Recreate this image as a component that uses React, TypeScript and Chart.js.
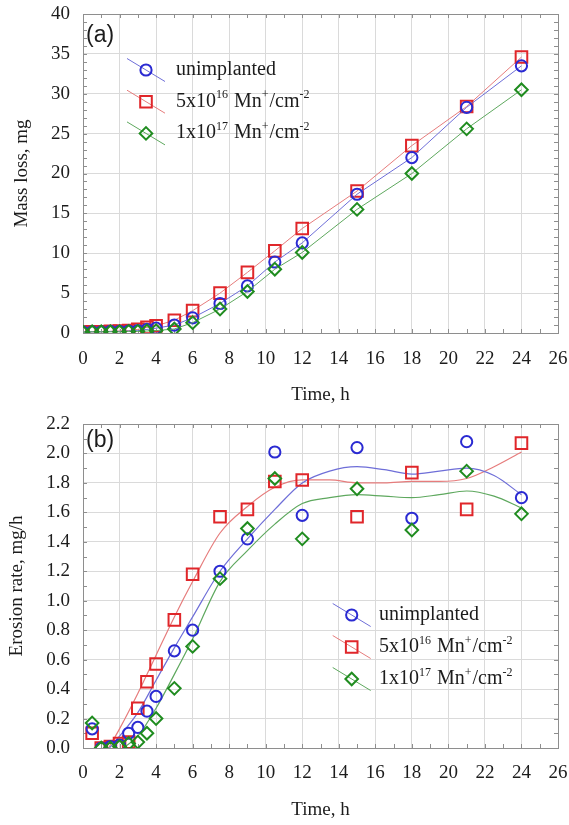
import React, { useEffect, useRef } from 'react';
import { Chart, registerables } from 'chart.js';

Chart.register(...registerables);

// ---------- data: panel (a) mass loss ----------
const timeA = [0, 0.5, 1, 1.5, 2, 2.5, 3, 3.5, 4, 5, 6, 7.5, 9, 10.5, 12, 15, 18, 21, 24];
const massUnimplanted = [0.1, 0.15, 0.15, 0.2, 0.2, 0.25, 0.3, 0.45, 0.6, 1.0, 1.9, 3.7, 5.9, 8.9, 11.3, 17.4, 22.0, 28.3, 33.5];
const mass5e16 = [0.1, 0.15, 0.15, 0.2, 0.25, 0.3, 0.45, 0.7, 0.9, 1.6, 2.8, 5.0, 7.6, 10.3, 13.1, 17.8, 23.5, 28.4, 34.6];
const mass1e17 = [0.1, 0.15, 0.15, 0.15, 0.15, 0.2, 0.2, 0.25, 0.3, 0.5, 1.3, 3.0, 5.2, 8.0, 10.1, 15.5, 20.0, 25.6, 30.5];

// ---------- data: panel (b) erosion rate ----------
const timeB = [0.5, 1, 1.5, 2, 2.5, 3, 3.5, 4, 5, 6, 7.5, 9, 10.5, 12, 15, 18, 21, 24];
const rateUnimplanted = [0.13, 0.0, 0.01, 0.02, 0.1, 0.14, 0.25, 0.35, 0.66, 0.8, 1.2, 1.42, 2.01, 1.58, 2.04, 1.56, 2.08, 1.7];
const rate5e16 = [0.1, 0.0, 0.01, 0.03, 0.04, 0.27, 0.45, 0.57, 0.87, 1.18, 1.57, 1.62, 1.81, 1.82, 1.57, 1.87, 1.62, 2.07];
const rate1e17 = [0.17, 0.0, 0.0, 0.01, 0.03, 0.04, 0.1, 0.2, 0.405, 0.69, 1.15, 1.49, 1.83, 1.42, 1.76, 1.48, 1.88, 1.59];

// fitted (smoothed) curves in panel (b)
const fitTimeUnimplanted = [1.45, 2, 3, 4, 5, 6, 7.5, 9, 10.5, 12, 13.5, 15, 16.5, 18, 19.5, 21, 22.5, 24];
const fitUnimplanted = [0, 0.08, 0.24, 0.46, 0.68, 0.89, 1.2, 1.42, 1.62, 1.8, 1.88, 1.91, 1.89, 1.86, 1.88, 1.9, 1.85, 1.72];
const fitTime5e16 = [1.4, 2, 3, 4, 5, 6, 7.5, 9, 10.5, 12, 13.5, 15, 16.5, 18, 19.5, 21, 22.5, 24];
const fit5e16 = [0, 0.13, 0.37, 0.63, 0.89, 1.13, 1.46, 1.64, 1.77, 1.82, 1.82, 1.8, 1.8, 1.81, 1.81, 1.83, 1.91, 2.01];
const fitTime1e17 = [2.2, 3, 4, 5, 6, 7.5, 9, 10.5, 12, 13.5, 15, 16.5, 18, 19.5, 21, 22.5, 24];
const fit1e17 = [0, 0.08, 0.27, 0.5, 0.74, 1.13, 1.34, 1.52, 1.66, 1.7, 1.72, 1.71, 1.7, 1.72, 1.745, 1.71, 1.63];

// ---------- labels ----------
const seriesNames = ['unimplanted', '5x10^16 Mn^+/cm^-2', '1x10^17 Mn^+/cm^-2'];
const xTitle = 'Time, h';
const yTitleA = 'Mass loss, mg';
const yTitleB = 'Erosion rate, mg/h';
const panelA = '(a)';
const panelB = '(b)';

const SERIF = '"Liberation Serif", "Times New Roman", serif';
const SANS = '"Liberation Sans", Arial, sans-serif';
const TEXT = '#1c1c1c';

const STYLES = [
  { mark: '#2a2ad2', line: '#6e6ed8', point: 'circle', r: 5.6 },
  { mark: '#e0262a', line: '#e67c7c', point: 'rect', r: 8.2 },
  { mark: '#1f8c1f', line: '#5ea85e', point: 'rectRot', r: 6.3 },
];

function pts(xs: number[], ys: number[]) {
  return xs.map((x, i) => ({ x, y: ys[i] }));
}

function drawMarker(ctx: CanvasRenderingContext2D, style: string, x: number, y: number, color: string) {
  ctx.save();
  ctx.strokeStyle = color;
  ctx.lineWidth = 2;
  ctx.beginPath();
  if (style === 'circle') ctx.arc(x, y, 5.6, 0, Math.PI * 2);
  else if (style === 'rect') ctx.rect(x - 5.8, y - 5.8, 11.6, 11.6);
  else {
    ctx.moveTo(x - 6.3, y);
    ctx.lineTo(x, y - 6.3);
    ctx.lineTo(x + 6.3, y);
    ctx.lineTo(x, y + 6.3);
    ctx.closePath();
  }
  ctx.stroke();
  ctx.restore();
}

function drawRichText(ctx: CanvasRenderingContext2D, text: string, x: number, baseline: number) {
  // '^' marks a superscript run that ends at the next '/' or space or end
  const parts: { t: string; sup: boolean }[] = [];
  let i = 0;
  let cur = '';
  while (i < text.length) {
    const c = text[i];
    if (c === '^') {
      if (cur) parts.push({ t: cur, sup: false });
      cur = '';
      i++;
      let s = '';
      while (i < text.length && text[i] !== ' ' && text[i] !== '/') {
        s += text[i];
        i++;
      }
      parts.push({ t: s, sup: true });
    } else {
      cur += c;
      i++;
    }
  }
  if (cur) parts.push({ t: cur, sup: false });
  let px = x;
  ctx.fillStyle = TEXT;
  ctx.textAlign = 'left';
  ctx.textBaseline = 'alphabetic';
  for (const p of parts) {
    if (p.sup) {
      ctx.font = `12px ${SERIF}`;
      ctx.fillText(p.t, px, baseline - 8.5);
      px += ctx.measureText(p.t).width + 1;
    } else {
      ctx.font = `20px ${SERIF}`;
      ctx.fillText(p.t, px, baseline);
      px += ctx.measureText(p.t).width;
    }
  }
}

function decorPlugin(o: {
  yMinor: number;
  label: string;
  labelX: number;
  labelBase: number;
  legX: number;
  legY: number;
  legGap: number;
  textX: number;
}) {
  return {
    id: 'decor',
    beforeDatasetsDraw(chart: any) {
      const { ctx, chartArea: a } = chart;
      const xs = chart.scales.x;
      const ys = chart.scales.y;
      ctx.save();
      ctx.strokeStyle = '#8e8e8e';
      ctx.lineWidth = 1;
      ctx.beginPath();
      for (let v = xs.min; v <= xs.max + 1e-9; v += 1) {
        const px = Math.round(xs.getPixelForValue(v)) + 0.5;
        ctx.moveTo(px, a.bottom);
        ctx.lineTo(px, a.bottom - 4);
        ctx.moveTo(px, a.top);
        ctx.lineTo(px, a.top + 4);
      }
      const n = Math.round((ys.max - ys.min) / o.yMinor);
      for (let k = 0; k <= n; k++) {
        const v = ys.min + k * o.yMinor;
        const py = Math.round(ys.getPixelForValue(v)) + 0.5;
        ctx.moveTo(a.left, py);
        ctx.lineTo(a.left + 4, py);
        ctx.moveTo(a.right, py);
        ctx.lineTo(a.right - 4, py);
      }
      ctx.stroke();
      ctx.strokeRect(Math.round(a.left) + 0.5, Math.round(a.top) + 0.5, Math.round(a.right - a.left), Math.round(a.bottom - a.top));
      ctx.restore();
    },
    afterDraw(chart: any) {
      const ctx: CanvasRenderingContext2D = chart.ctx;
      ctx.save();
      ctx.font = `23px ${SANS}`;
      ctx.fillStyle = TEXT;
      ctx.textAlign = 'left';
      ctx.textBaseline = 'alphabetic';
      ctx.fillText(o.label, o.labelX, o.labelBase);
      STYLES.forEach((s, i) => {
        const y = o.legY + i * o.legGap;
        ctx.strokeStyle = s.line;
        ctx.lineWidth = 1;
        ctx.beginPath();
        ctx.moveTo(o.legX - 19, y - 11.5);
        ctx.lineTo(o.legX + 19, y + 11.5);
        ctx.stroke();
        drawMarker(ctx, s.point, o.legX, y, s.mark);
        drawRichText(ctx, seriesNames[i], o.textX, y + 5);
      });
      ctx.restore();
    },
  };
}

function scaleX(padding: number) {
  return {
    type: 'linear' as const,
    min: 0,
    max: 26,
    ticks: {
      stepSize: 2,
      autoSkip: false,
      maxRotation: 0,
      padding,
      color: TEXT,
      font: { family: SERIF, size: 19 },
    },
    grid: { color: '#dadada', drawTicks: false, lineWidth: 1 },
    border: { display: false },
    title: {
      display: true,
      text: xTitle,
      color: TEXT,
      font: { family: SERIF, size: 19 },
      padding: { top: 0, bottom: 4 },
    },
    afterFit(scale: any) {
      scale.height = 77;
      scale.paddingLeft = 0;
      scale.paddingRight = 0;
    },
  };
}

function scaleY(max: number, step: number, decimals: number, title: string, titlePad: number) {
  return {
    type: 'linear' as const,
    min: 0,
    max,
    ticks: {
      stepSize: step,
      autoSkip: false,
      padding: 13,
      color: TEXT,
      font: { family: SERIF, size: 19 },
      callback: (v: any) => Number(v).toFixed(decimals),
    },
    grid: { color: '#dadada', drawTicks: false, lineWidth: 1 },
    border: { display: false },
    title: {
      display: true,
      text: title,
      color: TEXT,
      font: { family: SERIF, size: 19 },
      padding: { top: titlePad, bottom: 0 },
    },
    afterFit(scale: any) {
      scale.width = 83;
      scale.paddingTop = 0;
      scale.paddingBottom = 0;
    },
  };
}

function PanelA() {
  const ref = useRef<HTMLCanvasElement | null>(null);
  useEffect(() => {
    if (!ref.current) return;
    const series = [massUnimplanted, mass5e16, mass1e17];
    const order = [2, 0, 1];
    const chart = new Chart(ref.current, {
      type: 'scatter',
      data: {
        datasets: order.map((i) => ({
          label: seriesNames[i],
          data: pts(timeA, series[i]),
          showLine: true,
          tension: 0,
          borderColor: STYLES[i].line,
          borderWidth: 1,
          pointStyle: STYLES[i].point as any,
          pointRadius: STYLES[i].r,
          pointBorderColor: STYLES[i].mark,
          pointBackgroundColor: 'rgba(0,0,0,0)',
          pointBorderWidth: 2,
        })),
      },
      options: {
        responsive: false,
        animation: false,
        devicePixelRatio: 1,
        layout: { padding: { top: 14, right: 11, left: 0, bottom: 0 } },
        plugins: { legend: { display: false }, tooltip: { enabled: false } },
        scales: {
          x: scaleX(15) as any,
          y: scaleY(40, 5, 0, yTitleA, 10.5) as any,
        },
      },
      plugins: [
        decorPlugin({ yMinor: 1, label: panelA, labelX: 86, labelBase: 42, legX: 146, legY: 70, legGap: 31.7, textX: 176 }),
      ],
    });
    return () => chart.destroy();
  }, []);
  return <canvas ref={ref} width={569} height={410} style={{ display: 'block', width: 569, height: 410 }} />;
}

function PanelB() {
  const ref = useRef<HTMLCanvasElement | null>(null);
  useEffect(() => {
    if (!ref.current) return;
    const series = [rateUnimplanted, rate5e16, rate1e17];
    const fitX = [fitTimeUnimplanted, fitTime5e16, fitTime1e17];
    const fitY = [fitUnimplanted, fit5e16, fit1e17];
    const order = [2, 0, 1];
    const pointSets = order.map((i) => ({
      label: seriesNames[i],
      data: pts(timeB, series[i]),
      showLine: false,
      pointStyle: STYLES[i].point as any,
      pointRadius: STYLES[i].r,
      pointBorderColor: STYLES[i].mark,
      pointBackgroundColor: 'rgba(0,0,0,0)',
      pointBorderWidth: 2,
    }));
    const fitSets = [0, 1, 2].map((i) => ({
      label: seriesNames[i] + ' fit',
      data: pts(fitX[i], fitY[i]),
      showLine: true,
      cubicInterpolationMode: 'monotone' as const,
      borderColor: STYLES[i].line,
      borderWidth: 1.2,
      pointRadius: 0,
    }));
    const chart = new Chart(ref.current, {
      type: 'scatter',
      data: { datasets: [...pointSets, ...fitSets] as any },
      options: {
        responsive: false,
        animation: false,
        devicePixelRatio: 1,
        layout: { padding: { top: 14, right: 11, left: 0, bottom: 0 } },
        plugins: { legend: { display: false }, tooltip: { enabled: false } },
        scales: {
          x: scaleX(14) as any,
          y: scaleY(2.2, 0.2, 1, yTitleB, 6) as any,
        },
      },
      plugins: [
        decorPlugin({ yMinor: 0.1, label: panelB, labelX: 86, labelBase: 37, legX: 351.7, legY: 205, legGap: 32, textX: 379 }),
      ],
    });
    return () => chart.destroy();
  }, []);
  return <canvas ref={ref} width={569} height={415} style={{ display: 'block', width: 569, height: 415 }} />;
}

export default function App() {
  return (
    <div style={{ position: 'absolute', left: 0, top: 0, width: 569, height: 825, background: '#ffffff' }}>
      <PanelA />
      <PanelB />
    </div>
  );
}
